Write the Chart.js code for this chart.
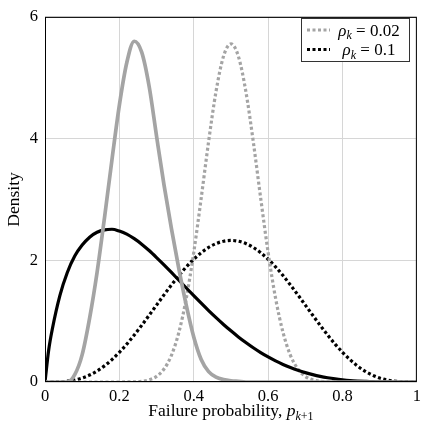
<!DOCTYPE html>
<html>
<head>
<meta charset="utf-8">
<script src="https://cdn.jsdelivr.net/npm/chart.js@4.4.1/dist/chart.umd.min.js"></script>
<style>
    html, body { margin: 0; padding: 0; background: #fff; }
</style>
</head>
<body>
<canvas id="myChart" width="426" height="431"></canvas>
<script>
/* values */
const xs = [0, 0.01, 0.02, 0.04, 0.06, 0.08, 0.10, 0.12, 0.14, 0.16, 0.18, 0.20, 0.22, 0.24, 0.26, 0.28, 0.30,
    0.32, 0.34, 0.36, 0.38, 0.40, 0.42, 0.44, 0.46, 0.48, 0.50, 0.52, 0.54, 0.56, 0.58, 0.60, 0.62, 0.64, 0.66,
    0.68, 0.70, 0.72, 0.74, 0.76, 0.78, 0.80, 0.82, 0.84, 0.86, 0.88, 0.90, 0.92, 0.94, 0.96, 0.98, 1];

const solidGray = [0, 0, 0, 0, 0, 0.12, 0.45, 1.05, 1.80, 2.70, 3.65, 4.55, 5.25, 5.60, 5.42, 4.86, 4.04,
    3.24, 2.52, 1.86, 1.26, 0.74, 0.37, 0.17, 0.08, 0.04, 0.02, 0.01, 0, 0, 0, 0, 0, 0, 0,
    0, 0, 0, 0, 0, 0, 0, 0, 0, 0, 0, 0, 0, 0, 0, 0, 0];

const solidBlack = [0, 0.53, 0.88, 1.42, 1.80, 2.07, 2.25, 2.38, 2.46, 2.50, 2.51, 2.48, 2.43, 2.355, 2.265, 2.16, 2.045,
    1.925, 1.80, 1.672, 1.545, 1.419, 1.295, 1.174, 1.058, 0.946, 0.841, 0.741, 0.649, 0.563, 0.484, 0.412, 0.347, 0.289, 0.238,
    0.193, 0.154, 0.121, 0.093, 0.070, 0.051, 0.036, 0.024, 0.016, 0.010, 0.005, 0.003, 0.001, 0, 0, 0, 0];

const dottedGray = [0, 0, 0, 0, 0, 0, 0, 0, 0, 0, 0, 0, 0.001, 0.003, 0.012, 0.035, 0.092,
    0.213, 0.439, 0.816, 1.378, 2.129, 3.021, 3.952, 4.779, 5.352, 5.557, 5.352, 4.779, 3.952, 3.021, 2.129, 1.378, 0.816, 0.439,
    0.213, 0.092, 0.035, 0.012, 0.003, 0.001, 0, 0, 0, 0, 0, 0, 0, 0, 0, 0, 0];

const dottedBlack = [0, 0, 0.0003, 0.003, 0.013, 0.032, 0.065, 0.114, 0.180, 0.265, 0.368, 0.488, 0.623, 0.772, 0.931, 1.096, 1.264,
    1.432, 1.594, 1.749, 1.891, 2.017, 2.125, 2.212, 2.275, 2.314, 2.327, 2.314, 2.275, 2.212, 2.125, 2.017, 1.891, 1.749, 1.594,
    1.432, 1.264, 1.096, 0.931, 0.772, 0.623, 0.488, 0.368, 0.265, 0.180, 0.114, 0.065, 0.032, 0.013, 0.003, 0.0003, 0];

const rhoLabels = ['0.02', '0.1'];
const xTicks = [0, 0.2, 0.4, 0.6, 0.8, 1];
const yTicks = [0, 2, 4, 6];

const GRAY = '#a4a4a4';
const FONT = "'Liberation Serif', 'DejaVu Serif', serif";

function pts(ys) {
    return xs.map((x, i) => ({ x: x, y: ys[i] }));
}

// draws a run of text pieces (roman / italic / subscript) starting at x
function drawParts(c, parts, x, y) {
    parts.forEach(p => { c.font = p.f; c.fillText(p.t, x, y + p.dy); x += c.measureText(p.t).width; });
}
function partsWidth(c, parts) {
    let w = 0;
    parts.forEach(p => { c.font = p.f; w += c.measureText(p.t).width; });
    return w;
}

// frame, axis titles and legend drawn by hand (pgfplots look)
const decorations = {
    id: 'decorations',
    afterDatasetsDraw(chart) {
        const { ctx, chartArea: a } = chart;
        ctx.save();
        ctx.strokeStyle = '#000';
        ctx.lineWidth = 1;
        ctx.strokeRect(a.left + 0.5, a.top + 0.5, a.right - a.left - 1, a.bottom - a.top - 1);
        ctx.restore();
    },
    afterDraw(chart) {
        const { ctx, chartArea: a } = chart;
        ctx.save();
        ctx.fillStyle = '#000';
        ctx.textBaseline = 'alphabetic';
        ctx.textAlign = 'left';

        // x title: Failure probability, p_{k+1}
        const parts = [
            { t: 'Failure probability, ', f: '17.5px ' + FONT, dy: 0 },
            { t: 'p', f: 'italic 17.5px ' + FONT, dy: 0 },
            { t: 'k', f: 'italic 12px ' + FONT, dy: 3.5 },
            { t: '+1', f: '12px ' + FONT, dy: 3.5 }
        ];
        const total = partsWidth(ctx, parts);
        drawParts(ctx, parts, (a.left + a.right) / 2 - total / 2, 416);

        // y title
        ctx.save();
        ctx.translate(18.5, (a.top + a.bottom) / 2);
        ctx.rotate(-Math.PI / 2);
        ctx.font = '17.5px ' + FONT;
        ctx.textAlign = 'center';
        ctx.fillText('Density', 0, 0);
        ctx.restore();

        // legend
        const legendSets = chart.data.datasets.filter(d => d.rho);
        const bx = 301.5, by = 18.5, bw = 108, bh = 43;
        ctx.fillStyle = '#fff';
        ctx.fillRect(bx, by, bw, bh);
        ctx.strokeStyle = '#333';
        ctx.lineWidth = 1;
        ctx.strokeRect(bx, by, bw, bh);
        legendSets.forEach((d, i) => {
            const ly = 30 + i * 19.5;
            ctx.beginPath();
            ctx.strokeStyle = d.borderColor;
            ctx.lineWidth = d.borderWidth;
            ctx.setLineDash(d.borderDash);
            ctx.moveTo(307, ly);
            ctx.lineTo(330, ly);
            ctx.stroke();
            ctx.setLineDash([]);

            const lp = [
                { t: 'ρ', f: 'italic 17px ' + FONT, dy: 0 },
                { t: 'k', f: 'italic 12px ' + FONT, dy: 3.5 },
                { t: ' = ', f: '17px ' + FONT, dy: 0 },
                { t: d.rho, f: '17px ' + FONT, dy: 0 }
            ];
            const w = partsWidth(ctx, lp);
            ctx.fillStyle = '#000';
            drawParts(ctx, lp, 369 - w / 2, ly + 5.5);
        });
        ctx.restore();
    }
};

const ctx = document.getElementById('myChart');

new Chart(ctx, {
    type: 'line',
    data: {
        datasets: [{
            label: 'solid gray',
            data: pts(solidGray),
            borderColor: GRAY,
            borderWidth: 3.7
        },
        {
            label: 'solid black',
            data: pts(solidBlack),
            borderColor: '#000',
            borderWidth: 3.2
        },
        {
            label: 'ρk = ' + rhoLabels[0],
            rho: rhoLabels[0],
            data: pts(dottedGray),
            borderColor: GRAY,
            borderWidth: 3.2,
            borderDash: [3, 2.5]
        },
        {
            label: 'ρk = ' + rhoLabels[1],
            rho: rhoLabels[1],
            data: pts(dottedBlack),
            borderColor: '#000',
            borderWidth: 3.2,
            borderDash: [3, 2.5]
        }]
    },
    options: {
        responsive: false,
        animation: false,
        devicePixelRatio: 1,
        layout: {
            padding: { top: 10, right: 9, left: 0, bottom: 0 }
        },
        elements: {
            point: { radius: 0 },
            line: { cubicInterpolationMode: 'monotone', borderCapStyle: 'butt', fill: false }
        },
        plugins: {
            legend: { display: false },
            tooltip: { enabled: false }
        },
        scales: {
            x: {
                type: 'linear',
                min: 0,
                max: 1,
                afterBuildTicks: s => { s.ticks = xTicks.map(v => ({ value: v })); },
                afterFit: s => { s.height = 49; },
                ticks: {
                    padding: 5,
                    color: '#000',
                    font: { family: FONT, size: 16.5 },
                    maxRotation: 0,
                    callback: v => String(v)
                },
                grid: { color: '#d6d6d6', drawTicks: false },
                border: { display: false }
            },
            y: {
                min: 0,
                max: 6,
                afterBuildTicks: s => { s.ticks = yTicks.map(v => ({ value: v })); },
                afterFit: s => { s.width = 45; },
                ticks: {
                    padding: 7,
                    color: '#000',
                    font: { family: FONT, size: 16.5 },
                    callback: v => String(v)
                },
                grid: { color: '#d6d6d6', drawTicks: false },
                border: { display: false }
            }
        }
    },
    plugins: [decorations]
});
</script>
</body>
</html>
